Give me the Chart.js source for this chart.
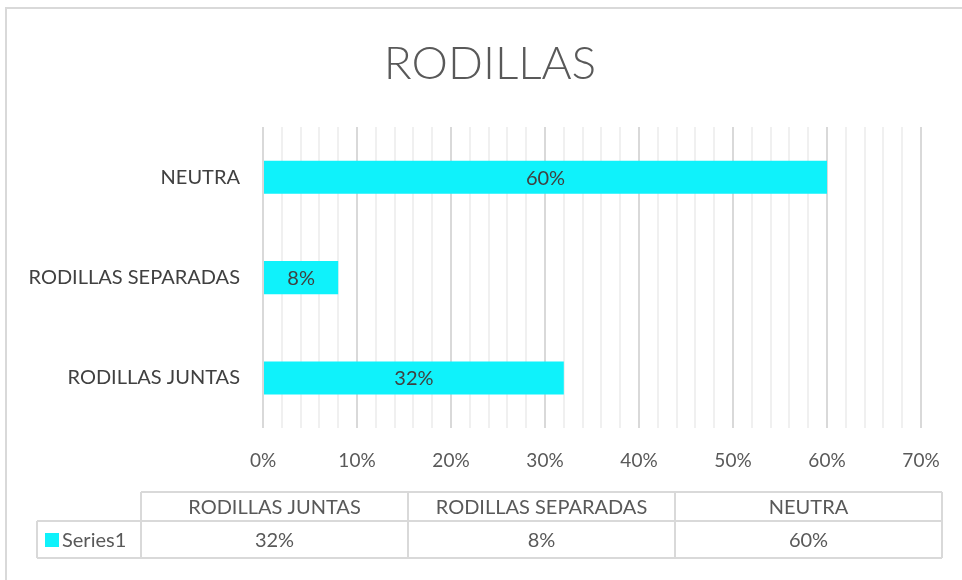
<!DOCTYPE html>
<html>
<head>
<meta charset="utf-8">
<script src="https://cdn.jsdelivr.net/npm/chart.js@4"></script>
<style>
    html, body { margin: 0; padding: 0; background: #ffffff; }
    #wrap { width: 962px; height: 580px; position: relative; }
</style>
</head>
<body>
<div id="wrap"><canvas id="rodillasChart" width="962" height="580"></canvas></div>
<script>
// 類別與數值（百分比）
const categories = ['RODILLAS JUNTAS', 'RODILLAS SEPARADAS', 'NEUTRA'];
const seriesName = 'Series1';
const seriesValues = [32, 8, 60];
const xTicks = [0, 10, 20, 30, 40, 50, 60, 70];
const chartTitle = 'RODILLAS';

const barColor = '#0ff2fb';
const textDark = '#404040';
const textGray = '#595959';
const lineMajor = '#d9d9d9';
const lineMinor = '#f0f0f0';
const fontFamily = 'Lato, "Open Sans", "Liberation Sans", sans-serif';

// 外框與標題
const frame = {
    id: 'frame',
    beforeDraw(chart) {
        const ctx = chart.ctx;
        ctx.save();
        ctx.strokeStyle = lineMajor;
        ctx.lineWidth = 2;
        ctx.strokeRect(6, 8, chart.width + 10, chart.height + 10);
        ctx.font = `300 46px ${fontFamily}`;
        ctx.fillStyle = textGray;
        ctx.textAlign = 'center';
        ctx.textBaseline = 'middle';
        ctx.fillText(chartTitle, 490, 64);
        ctx.restore();
    }
};

// 長條中央數值標籤
const barLabels = {
    id: 'barLabels',
    afterDatasetsDraw(chart) {
        const ctx = chart.ctx;
        const meta = chart.getDatasetMeta(0);
        ctx.save();
        ctx.font = `20px ${fontFamily}`;
        ctx.fillStyle = textDark;
        ctx.textAlign = 'center';
        ctx.textBaseline = 'middle';
        meta.data.forEach((bar, i) => {
            const v = chart.data.datasets[0].data[i];
            ctx.fillText(v + '%', (bar.x + bar.base) / 2, bar.y + 1);
        });
        ctx.restore();
    }
};

// 資料表（圖表下方）
const dataTable = {
    id: 'dataTable',
    afterDraw(chart) {
        const ctx = chart.ctx;
        const ds = chart.data.datasets[0];
        const cols = [141, 408, 675, 942];
        const left = 37;
        const top = 492, mid = 521, bottom = 558;
        ctx.save();
        ctx.strokeStyle = lineMajor;
        ctx.lineWidth = 2;
        ctx.beginPath();
        ctx.moveTo(cols[0], top); ctx.lineTo(cols[3], top);
        ctx.moveTo(left, mid); ctx.lineTo(cols[3], mid);
        ctx.moveTo(left, bottom); ctx.lineTo(cols[3], bottom);
        ctx.moveTo(left, mid); ctx.lineTo(left, bottom);
        cols.forEach(x => { ctx.moveTo(x, top); ctx.lineTo(x, bottom); });
        ctx.stroke();

        ctx.font = `20px ${fontFamily}`;
        ctx.fillStyle = textGray;
        ctx.textAlign = 'center';
        ctx.textBaseline = 'middle';
        chart.data.labels.forEach((lab, i) => {
            const cx = (cols[i] + cols[i + 1]) / 2;
            ctx.fillText(lab, cx, (top + mid) / 2 + 1);
            ctx.fillText(ds.data[i] + '%', cx, (mid + bottom) / 2 + 1);
        });

        // 圖例方塊與系列名稱
        ctx.fillStyle = ds.backgroundColor;
        ctx.fillRect(45, 533, 14, 14);
        ctx.fillStyle = textGray;
        ctx.textAlign = 'left';
        ctx.fillText(ds.label, 62, (mid + bottom) / 2 + 1);
        ctx.restore();
    }
};

const chartData = {
    labels: categories,
    datasets: [{
        label: seriesName,
        data: seriesValues,
        backgroundColor: barColor,
        borderWidth: 0,
        categoryPercentage: 1,
        barPercentage: 0.33
    }]
};

const chartOptions = {
    indexAxis: 'y',
    responsive: false,
    animation: false,
    layout: {
        padding: { left: 0, right: 41, top: 127, bottom: 87 }
    },
    plugins: {
        legend: { display: false },
        tooltip: { enabled: false },
        title: { display: false }
    },
    scales: {
        x: {
            min: 0,
            max: 70,
            border: { display: false },
            grid: {
                drawTicks: false,
                color: ctx => (ctx.tick && ctx.tick.value % 10 === 0) ? lineMajor : lineMinor,
                lineWidth: 2
            },
            ticks: {
                stepSize: 2,
                autoSkip: false,
                maxTicksLimit: 100,
                maxRotation: 0,
                padding: 21,
                color: textGray,
                font: { family: fontFamily, size: 19 },
                callback: v => xTicks.includes(v) ? v + '%' : ''
            }
        },
        y: {
            reverse: true,
            border: { display: false },
            grid: { display: false, drawTicks: false },
            afterFit: scale => { scale.width = 263; },
            ticks: {
                padding: 23,
                color: textDark,
                font: { family: fontFamily, size: 20 }
            }
        }
    }
};

const rodillasChart = new Chart(
    document.getElementById('rodillasChart'),
    { type: 'bar', data: chartData, options: chartOptions, plugins: [frame, barLabels, dataTable] }
);
</script>
</body>
</html>
